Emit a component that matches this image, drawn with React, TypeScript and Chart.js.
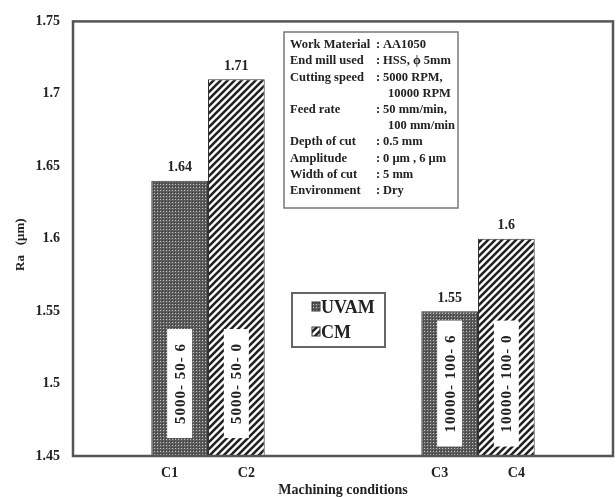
import React, { useEffect, useRef } from 'react';
import { Chart, registerables } from 'chart.js';

Chart.register(...registerables);

// ---- data ----
const groups = ['5000-50', '10000-100'];
const seriesNames = ['UVAM', 'CM'];
const uvamValues = [1.64, 1.55];
const cmValues = [1.71, 1.6];
const uvamConditions = ['C1', 'C3'];
const cmConditions = ['C2', 'C4'];
const uvamParams = ['5000- 50- 6', '10000- 100- 6'];
const cmParams = ['5000- 50- 0', '10000- 100- 0'];
const paramLabelCenter = 1.5; // value on the y axis where the in-bar labels are centred
const yTicks = [1.45, 1.5, 1.55, 1.6, 1.65, 1.7, 1.75];
const yTitle = 'Ra   (\u03bcm)';
const xTitle = 'Machining conditions';
const infoLabels = ['Work Material', 'End mill used', 'Cutting speed', '', 'Feed rate', '', 'Depth of cut', 'Amplitude', 'Width of cut', 'Environment'];
const infoValues = ['AA1050', 'HSS, \u03d5 5mm', '5000 RPM,', '10000 RPM', '50 mm/min,', '100 mm/min', '0.5 mm', '0 \u03bcm , 6 \u03bcm', '5 mm', 'Dry'];

const FONT = '"Liberation Serif", "Times New Roman", serif';

function makeDotPattern(): CanvasPattern {
  const c = document.createElement('canvas');
  c.width = 3;
  c.height = 3;
  const g = c.getContext('2d')!;
  g.fillStyle = '#5c5c5c';
  g.fillRect(0, 0, 3, 3);
  g.fillStyle = '#c4c4c4';
  g.fillRect(1, 1, 1, 1);
  g.fillStyle = '#3a3a3a';
  g.fillRect(0, 0, 1, 1);
  return g.createPattern(c, 'repeat')!;
}

function makeHatchPattern(): CanvasPattern {
  const s = 7;
  const c = document.createElement('canvas');
  c.width = s;
  c.height = s;
  const g = c.getContext('2d')!;
  g.fillStyle = '#ffffff';
  g.fillRect(0, 0, s, s);
  g.strokeStyle = '#222222';
  g.lineWidth = 2.6;
  g.beginPath();
  g.moveTo(-1, s + 1);
  g.lineTo(s + 1, -1);
  g.moveTo(-2, 2);
  g.lineTo(2, -2);
  g.moveTo(s - 2, s + 2);
  g.lineTo(s + 2, s - 2);
  g.stroke();
  return g.createPattern(c, 'repeat')!;
}

export default function App() {
  const ref = useRef<HTMLCanvasElement>(null);

  useEffect(() => {
    const canvas = ref.current!;
    const dot = makeDotPattern();
    const hatch = makeHatchPattern();
    const conditions = [uvamConditions, cmConditions];
    const params = [uvamParams, cmParams];

    const overlay = {
      id: 'overlay',
      afterDraw(chart: any) {
        const { ctx, chartArea: a, scales } = chart;
        const y = scales.y;
        ctx.save();

        // plot frame
        ctx.strokeStyle = '#555';
        ctx.lineWidth = 2.5;
        ctx.strokeRect(a.left, a.top, a.right - a.left, a.bottom - a.top);

        chart.data.datasets.forEach((ds: any, i: number) => {
          const meta = chart.getDatasetMeta(i);
          meta.data.forEach((bar: any, j: number) => {
            const v = ds.data[j];
            // value label
            ctx.fillStyle = '#222';
            ctx.font = `bold 14px ${FONT}`;
            ctx.textAlign = 'center';
            ctx.textBaseline = 'bottom';
            ctx.fillText(String(v), bar.x, bar.y - 6);

            // rotated parameter label with white box
            const txt = params[i][j];
            ctx.font = `bold 15px ${FONT}`;
            (ctx as any).letterSpacing = '1px';
            const tw = ctx.measureText(txt).width;
            const cy = y.getPixelForValue(paramLabelCenter);
            ctx.save();
            ctx.translate(bar.x, cy);
            ctx.rotate(-Math.PI / 2);
            const bw = tw + 28;
            const bh = 25;
            ctx.fillStyle = '#ffffff';
            ctx.fillRect(-bw / 2, -bh / 2, bw, bh);
            ctx.fillStyle = '#222';
            ctx.textAlign = 'center';
            ctx.textBaseline = 'middle';
            ctx.fillText(txt, 0, 1);
            ctx.restore();
            (ctx as any).letterSpacing = '0px';

            // condition label under axis
            ctx.font = `bold 14px ${FONT}`;
            ctx.fillStyle = '#222';
            ctx.textAlign = 'center';
            ctx.textBaseline = 'middle';
            const off = i === 0 ? -10 : 10;
            ctx.fillText(conditions[i][j], bar.x + off, a.bottom + 17);
          });
        });

        // axis titles
        ctx.fillStyle = '#222';
        ctx.font = `bold 14px ${FONT}`;
        ctx.textAlign = 'center';
        ctx.textBaseline = 'middle';
        ctx.fillText(xTitle, (a.left + a.right) / 2, a.bottom + 34);
        ctx.save();
        ctx.translate(21, (a.top + a.bottom) / 2 + 6);
        ctx.rotate(-Math.PI / 2);
        ctx.font = `bold 13px ${FONT}`;
        ctx.fillText(yTitle, 0, 0);
        ctx.restore();

        // legend box
        const lx = 292, ly = 293, lw = 93, lh = 54;
        ctx.strokeStyle = '#666';
        ctx.lineWidth = 2;
        ctx.strokeRect(lx, ly, lw, lh);
        chart.data.datasets.forEach((ds: any, i: number) => {
          const cy = ly + 14 + i * 25;
          ctx.fillStyle = ds.backgroundColor;
          ctx.fillRect(lx + 20, cy - 5, 8, 9);
          ctx.strokeStyle = '#333';
          ctx.lineWidth = 1;
          ctx.strokeRect(lx + 20, cy - 5, 8, 9);
          ctx.fillStyle = '#222';
          ctx.font = `bold 18px ${FONT}`;
          ctx.textAlign = 'left';
          ctx.textBaseline = 'middle';
          ctx.fillText(ds.label, lx + 29, cy + 1);
        });

        // info box
        const ix = 284, iy = 32, iw = 174, ih = 176;
        ctx.fillStyle = '#fff';
        ctx.fillRect(ix, iy, iw, ih);
        ctx.strokeStyle = '#777';
        ctx.lineWidth = 1.5;
        ctx.strokeRect(ix, iy, iw, ih);
        ctx.font = `bold 12.5px ${FONT}`;
        ctx.fillStyle = '#222';
        ctx.textBaseline = 'middle';
        ctx.textAlign = 'left';
        infoLabels.forEach((lab, k) => {
          const ty = iy + 13 + k * 16.2;
          if (lab) {
            ctx.fillText(lab, ix + 6, ty);
            ctx.fillText(':', ix + 92, ty);
            ctx.fillText(infoValues[k], ix + 99, ty);
          } else {
            ctx.fillText(infoValues[k], ix + 104, ty);
          }
        });

        ctx.restore();
      },
    };

    const chart = new Chart(canvas, {
      type: 'bar',
      data: {
        labels: groups,
        datasets: [
          {
            label: seriesNames[0],
            data: uvamValues,
            backgroundColor: dot as any,
            borderColor: '#333',
            borderWidth: 1,
            categoryPercentage: 0.42,
            barPercentage: 1,
          },
          {
            label: seriesNames[1],
            data: cmValues,
            backgroundColor: hatch as any,
            borderColor: '#333',
            borderWidth: 1,
            categoryPercentage: 0.42,
            barPercentage: 1,
          },
        ],
      },
      options: {
        responsive: false,
        animation: false,
        devicePixelRatio: 1,
        layout: { padding: { top: 17, right: 3, left: 0, bottom: 0 } },
        plugins: { legend: { display: false }, tooltip: { enabled: false } },
        scales: {
          x: {
            grid: { display: false },
            border: { display: false },
            ticks: { display: false },
            afterFit: (s: any) => {
              s.height = 41;
            },
          },
          y: {
            min: 1.45,
            max: 1.75,
            grid: { display: false, drawTicks: false },
            border: { display: false },
            afterBuildTicks: (s: any) => {
              s.ticks = yTicks.map((v) => ({ value: v }));
            },
            afterFit: (s: any) => {
              s.width = 73;
            },
            ticks: {
              padding: 13,
              color: '#222',
              font: { family: FONT, size: 14, weight: 'bold' },
              callback: (v: any) => String(Number(Number(v).toFixed(2))),
            },
          },
        },
      },
      plugins: [overlay],
    });

    return () => chart.destroy();
  }, []);

  return (
    <div style={{ position: 'absolute', left: 0, top: 0, width: 616, height: 497, background: '#fff' }}>
      <canvas ref={ref} width={616} height={497} style={{ display: 'block' }} />
    </div>
  );
}
